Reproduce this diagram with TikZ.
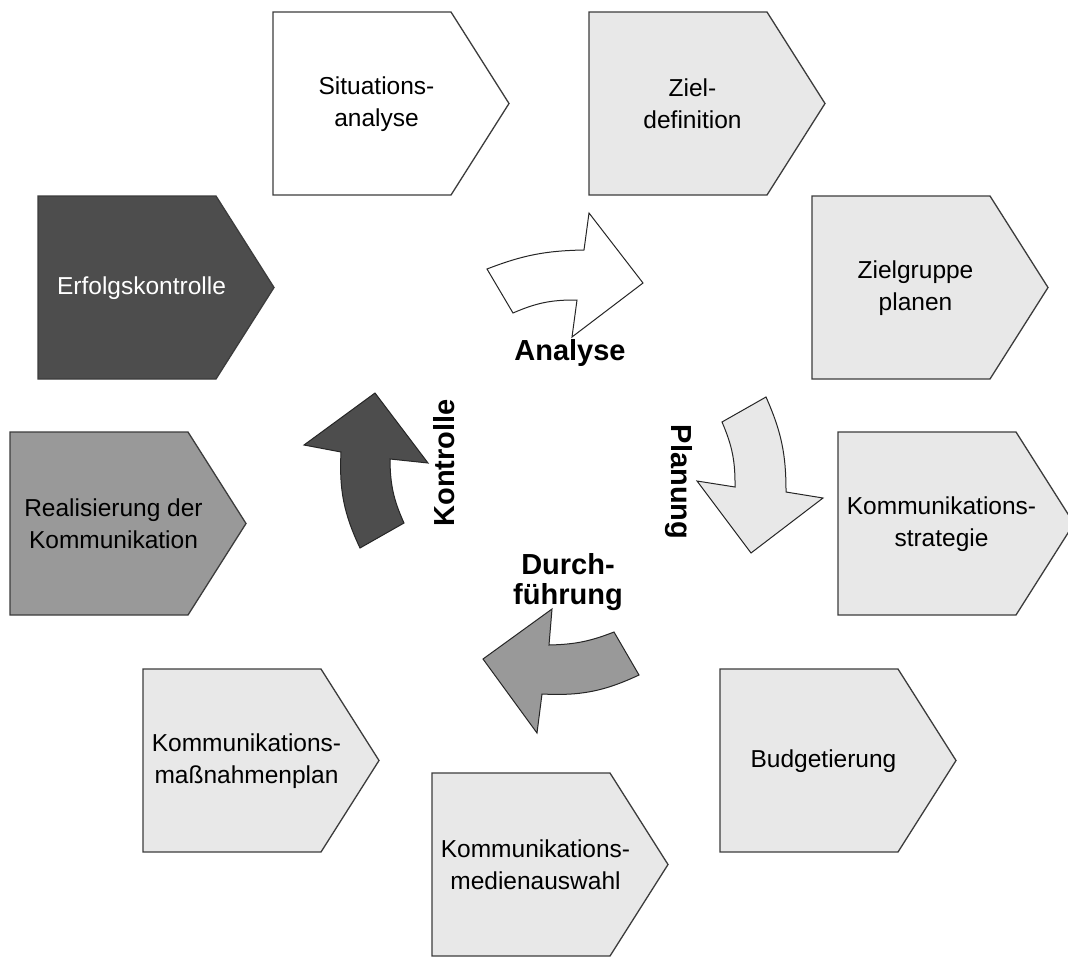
\documentclass[tikz,border=0pt]{standalone}
\usepackage{fontspec}
\setmainfont{Liberation Sans}
\definecolor{lightfill}{HTML}{E8E8E8}
\definecolor{midfill}{HTML}{999999}
\definecolor{darkfill}{HTML}{4D4D4D}
\definecolor{edge}{HTML}{3C3C3C}
\tikzset{
  pentline/.style={draw=edge, line width=1.3pt, line join=miter},
  steplabel/.style={align=center, font=\fontsize{24.5}{32}\selectfont, inner sep=0pt},
  phaselabel/.style={align=center, font=\fontsize{29}{30}\selectfont\bfseries, inner sep=0pt},
  curvearrow/.style={draw=black!85, line width=1pt, line join=miter},
}
% pentagon step: name, left x, top y, fill, text colour, text
\newcommand\stepshape[6]{%
  \draw[pentline, fill=#4] (#2,#3) -- ++(178,0) -- ++(58,91.5) -- ++(-58,91.5) -- ++(-178,0) -- cycle;
  \node[steplabel, text=#5] (#1) at (#2+103.5,#3+92) {#6};
}
\begin{document}
\begin{tikzpicture}[x=1pt, y=-1pt]
  \useasboundingbox (0,0) rectangle (1068,956);
  \clip (0,0) rectangle (1068,956);
  \fill[white] (0,0) rectangle (1068,956);

  % process steps
  \stepshape{sit}{273}{12}{white}{black}{Situations-\\analyse}
  \stepshape{ziel}{589}{12}{lightfill}{black}{Ziel-\\definition}
  \stepshape{zgruppe}{812}{196}{lightfill}{black}{Zielgruppe\\planen}
  \stepshape{strat}{838}{432}{lightfill}{black}{Kommunikations-\\strategie}
  \stepshape{budget}{720}{669}{lightfill}{black}{Budgetierung}
  \stepshape{medien}{432}{773}{lightfill}{black}{Kommunikations-\\medienauswahl}
  \stepshape{massn}{143}{669}{lightfill}{black}{Kommunikations-\\maßnahmenplan}
  \stepshape{real}{10}{432}{midfill}{black}{Realisierung der\\Kommunikation}
  \stepshape{erfolg}{38}{196}{darkfill}{white}{Erfolgskontrolle}

  % phase labels
  \node[phaselabel] (analyse) at (570,353) {Analyse};
  \node[phaselabel, rotate=-90] (planung) at (679,482) {Planung};
  \node[phaselabel] (durch) at (568,582) {Durch-\\führung};
  \node[phaselabel, rotate=90] (kontrolle) at (444,463) {Kontrolle};

  % curved cycle arrows
  \draw[curvearrow, fill=white] (487,269) to[bend left=10] (584,250) -- (589,213) -- (643,283)
    -- (572,337) -- (577,300) to[bend right=12] (513,313) -- cycle;
  \draw[curvearrow, fill=lightfill] (722,422) -- (766,397) to[bend left=12] (786,492) -- (823,498)
    -- (751,553) -- (697,481) -- (735,487) to[bend right=12] (722,422) -- cycle;
  \draw[curvearrow, fill=midfill] (614,632) -- (639,675) to[bend left=14] (542,694) -- (537,733)
    -- (483,659) -- (552,609) -- (549,645) to[bend right=10] (614,632) -- cycle;
  \draw[curvearrow, fill=darkfill] (360,548) -- (404,523) to[bend left=12] (390,459) -- (428,463)
    -- (375,393) -- (304,445) -- (341,452) to[bend right=14] (360,548) -- cycle;
\end{tikzpicture}
\end{document}
